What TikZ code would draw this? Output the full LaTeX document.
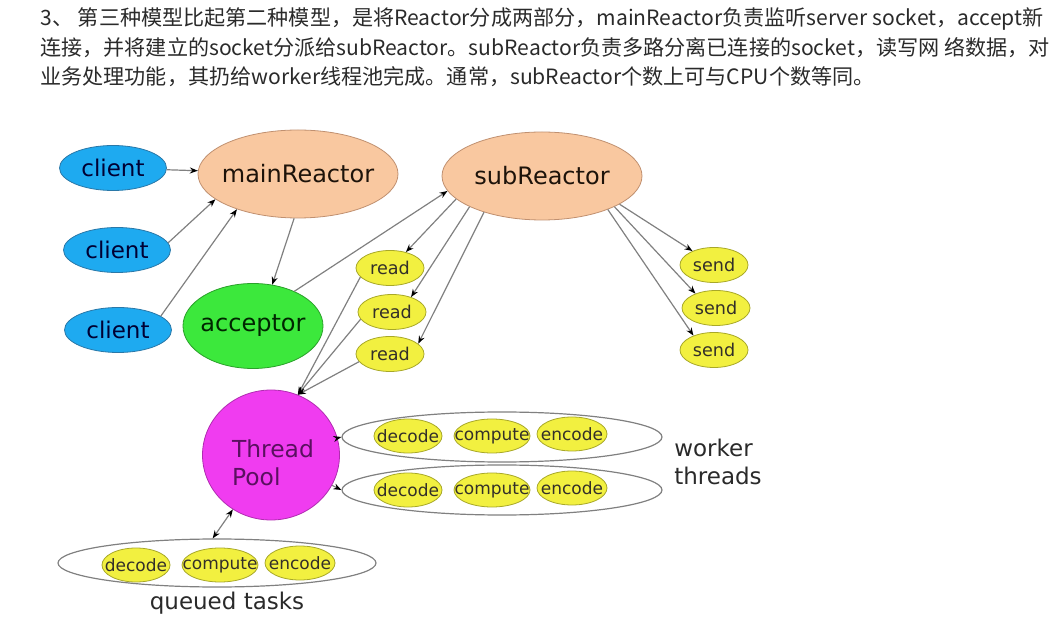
\documentclass[tikz,border=0pt]{standalone}
\usepackage{fontspec}
\setmainfont{DejaVu Sans}
\newfontfamily\cjkfont{Noto Sans CJK SC}
\usetikzlibrary{shapes.geometric,arrows.meta}
\definecolor{clientfill}{HTML}{1EAAF0}
\definecolor{clientline}{HTML}{2A78A8}
\definecolor{reactfill}{HTML}{F9C8A0}
\definecolor{reactline}{HTML}{C09070}
\definecolor{accfill}{HTML}{3CE83C}
\definecolor{accline}{HTML}{2AA02A}
\definecolor{iofill}{HTML}{F2F040}
\definecolor{ioline}{HTML}{A8A828}
\definecolor{poolfill}{HTML}{F03CF0}
\definecolor{poolline}{HTML}{B02CB0}
\definecolor{pooltext}{HTML}{5A1060}
\definecolor{linegray}{HTML}{808080}
\definecolor{inkgray}{HTML}{2A2A2A}
\newcommand{\tasklabel}[1]{\makebox[0pt]{#1}}

\begin{document}
\begin{tikzpicture}[x=0.5pt,y=-0.5pt,
		client/.style={ellipse,draw=clientline,fill=clientfill,text=black!80!blue,minimum width=53.5pt,minimum height=22.5pt,inner sep=0pt,font=\fontsize{11.5}{13}\selectfont},
		reactor/.style={ellipse,draw=reactline,fill=reactfill,text=black!85!brown,minimum width=100pt,minimum height=44pt,inner sep=0pt,font=\fontsize{12}{14}\selectfont},
		io/.style={ellipse,draw=ioline,fill=iofill,text=black!85!olive,minimum width=34pt,minimum height=17.5pt,inner sep=0pt,font=\fontsize{8.8}{10}\selectfont},
		task/.style={io,minimum height=17pt,font=\fontsize{8.5}{10}\selectfont},
		group/.style={ellipse,draw=linegray,fill=white,line width=0.6pt,minimum width=160pt,minimum height=25pt,inner sep=0pt},
		caption/.style={inner sep=0pt,text=inkgray,font=\fontsize{11.5}{14}\selectfont,align=left},
		header/.style={anchor=west,inner sep=0pt,text=inkgray,font=\cjkfont\fontsize{10.55}{12}\selectfont}]
		\useasboundingbox (0,0) rectangle (1064,624);
		% text above the diagram
		\node[header] (line1) at (40,19) {3、 第三种模型比起第二种模型，是将Reactor分成两部分，mainReactor负责监听server socket，accept新};
		\node[header] (line2) at (40,48) {连接，并将建立的socket分派给subReactor。subReactor负责多路分离已连接的socket，读写网 络数据，对};
		\node[header] (line3) at (40,77) {业务处理功能，其扔给worker线程池完成。通常，subReactor个数上可与CPU个数等同。};

		\node[client] (c1) at (113,168) {client};
		\node[client] (c2) at (117,250) {client};
		\node[client] (c3) at (118,330) {client};
		\node[reactor] (main) at (298,174) {\tasklabel{mainReactor}};
		\node[reactor] (sub) at (542,176) {\tasklabel{subReactor}};
		\node[reactor,draw=accline,fill=accfill,text=black!85!green,minimum width=70pt,minimum height=42.5pt] (acc) at (253,326) {\tasklabel{acceptor}};
		\node[io] (r1) at (390,268) {read};
		\node[io] (r2) at (392,312) {read};
		\node[io] (r3) at (390,354) {read};
		\node[io] (s1) at (714,265) {send};
		\node[io] (s2) at (716,308) {send};
		\node[io] (s3) at (714,350) {send};
		\node[ellipse,draw=poolline,fill=poolfill,minimum width=68.5pt,minimum height=65pt,inner sep=0pt] (pool) at (271,455) {};
		\node[caption,text=pooltext,font=\fontsize{11.7}{14}\selectfont] (pool-text) at (273,463) {Thread\\Pool};

		\node[group] (w1) at (502,437) {};
		\node[group] (w2) at (502,490) {};
		\node[group,minimum width=159pt,minimum height=24pt] (queue) at (217,563) {};
		\foreach \row/\x/\y in {w1/408/436,w2/408/490,q/136/565}{
			\node[task,minimum width=34pt] (\row-dec) at (\x,\y) {\tasklabel{decode}};
			\node[task,minimum width=38pt] (\row-com) at (\x+84,\y) {\tasklabel{compute}};
			\node[task,minimum width=35pt] (\row-enc) at (\x+164,\y-2) {\tasklabel{encode}};
		}
		\node[caption] (workers) at (718,462) {worker\\threads};
		\node[caption] (queued) at (227,603) {queued tasks};

		\path[-{Stealth[length=4pt,width=3pt,color=black]},color=linegray,line width=0.6pt]
		(c1) edge (main)
		(c2.8) edge (main.197)
		(c3.18) edge (main.210)
		(main.265) edge (acc.65)
		(acc.40) edge (sub.189)
		(sub.195) edge (r1.45)
		(sub.203) edge (r2.38)
		(sub.212) edge (r3.20)
		(sub.340) edge (s1.147)
		(sub.337) edge (s2.145)
		(sub.333) edge (s3.145)
		(r1.197) edge (pool.66)
		(r2.193) edge (pool.66)
		(r3.194) edge (pool.66)
		(pool) edge (w1.west)
		(pool) edge (w2.west)
		(queue.100) edge[{Stealth[length=4pt,width=3pt,color=black]}-{Stealth[length=4pt,width=3pt,color=black]}] (pool.235);
	\end{tikzpicture}
\end{document}
